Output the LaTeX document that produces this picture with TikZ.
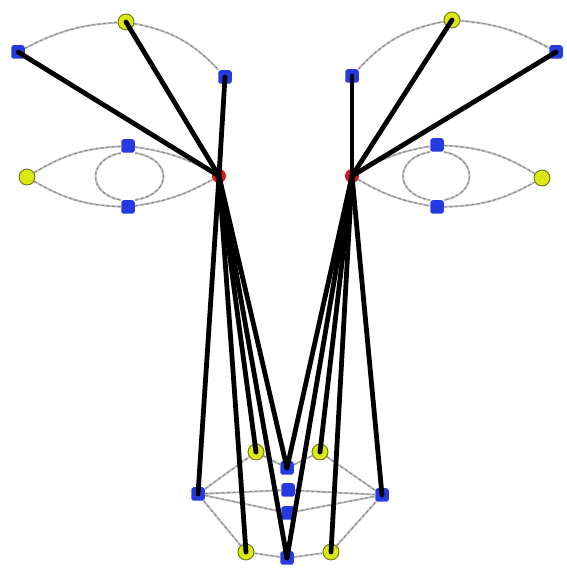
\documentclass[tikz,border=0pt]{standalone}
\usetikzlibrary{calc}
\definecolor{nblue}{RGB}{38,58,225}
\definecolor{nyellow}{RGB}{218,232,22}
\definecolor{nyedge}{RGB}{110,115,20}
\definecolor{nred}{RGB}{215,22,32}
\tikzset{
  bnode/.style={rectangle,rounded corners=2.5pt,minimum size=13.5pt,inner sep=0pt,fill=nblue},
  ynode/.style={circle,minimum size=16pt,inner sep=0pt,fill=nyellow,draw=nyedge,line width=0.9pt},
  rnode/.style={circle,minimum size=14pt,inner sep=0pt,fill=nred},
  gline/.style={draw=gray!50,line width=2pt,
    postaction={draw=gray!95,line width=0.9pt,dash pattern=on 3pt off 2.5pt}},
  kline/.style={draw=black,line width=4.8pt,line cap=round}
}
\begin{document}
\begin{tikzpicture}[x=1pt,y=1pt]
\useasboundingbox (0,0) rectangle (567,570);
% left brow & eye
\node[bnode] (eb1) at (18,518) {};
\node[ynode] (eb2) at (126,548) {};
\node[bnode] (eb3) at (225,493) {};
\node[ynode] (eyL) at (27,393) {};
\node[bnode] (eyT) at (128,424) {};
\node[bnode] (eyB) at (128,363) {};
\node[rnode] (rL) at (219,394) {};
% right brow & eye
\node[bnode] (eb4) at (352,494) {};
\node[ynode] (eb5) at (452,550) {};
\node[bnode] (eb6) at (556,518) {};
\node[bnode] (eyT2) at (437,425) {};
\node[bnode] (eyB2) at (437,363) {};
\node[ynode] (eyR) at (542,392) {};
\node[rnode] (rR) at (352,394) {};
% mouth
\node[ynode] (mYTL) at (256,118) {};
\node[bnode] (mBCT) at (287,102) {};
\node[ynode] (mYTR) at (320,118) {};
\node[bnode] (mBL) at (198,76) {};
\node[bnode] (mBR) at (382,75) {};
\node[bnode] (mBCM) at (288,80) {};
\node[bnode] (mBCL) at (288,57) {};
\node[ynode] (mYBL) at (246,18) {};
\node[bnode] (mBB) at (287,12) {};
\node[ynode] (mYBR) at (331,18) {};
% grey contours
\path[gline] (eb1) to[bend left=12] (eb2);
\path[gline] (eb2) to[bend left=18] (eb3);
\path[gline] (eb4) to[bend left=18] (eb5);
\path[gline] (eb5) to[bend left=12] (eb6);
\path[gline] (eyL) to[bend left=14] (eyT);
\path[gline] (eyT) to[bend left=10] (rL);
\path[gline] (eyL) to[bend right=14] (eyB);
\path[gline] (eyB) to[bend right=10] (rL);
\path[gline] (eyT.south west) .. controls +(-34,-6) and +(-34,6) .. (eyB.north west);
\path[gline] (eyT.south east) .. controls +(38,-6) and +(38,6) .. (eyB.north east);
\path[gline] (rR) to[bend left=10] (eyT2);
\path[gline] (eyT2) to[bend left=14] (eyR);
\path[gline] (rR) to[bend right=10] (eyB2);
\path[gline] (eyB2) to[bend right=14] (eyR);
\path[gline] (eyT2.south west) .. controls +(-36,-6) and +(-36,6) .. (eyB2.north west);
\path[gline] (eyT2.south east) .. controls +(34,-6) and +(34,6) .. (eyB2.north east);
\path[gline] (mBL) -- (mYTL);
\path[gline] (mYTL) -- (mBCT);
\path[gline] (mBCT) -- (mYTR);
\path[gline] (mYTR) -- (mBR);
\path[gline] (mBL) -- (mYBL);
\path[gline] (mYBL) -- (mBB);
\path[gline] (mBB) -- (mYBR);
\path[gline] (mYBR) -- (mBR);
\path[gline] (mBL) -- (mBCM);
\path[gline] (mBCM) -- (mBR);
\path[gline] (mBL) -- (mBCL);
\path[gline] (mBCL) -- (mBR);
% black links
\foreach \t in {eb1,eb2,eb3,mBL,mYBL,mYTL,mBB,mBCT}
  \draw[kline] (rL.center) -- (\t.center);
\foreach \t in {eb4,eb5,eb6,mBR,mYBR,mYTR,mBB,mBCT}
  \draw[kline] (rR.center) -- (\t.center);
\end{tikzpicture}
\end{document}
